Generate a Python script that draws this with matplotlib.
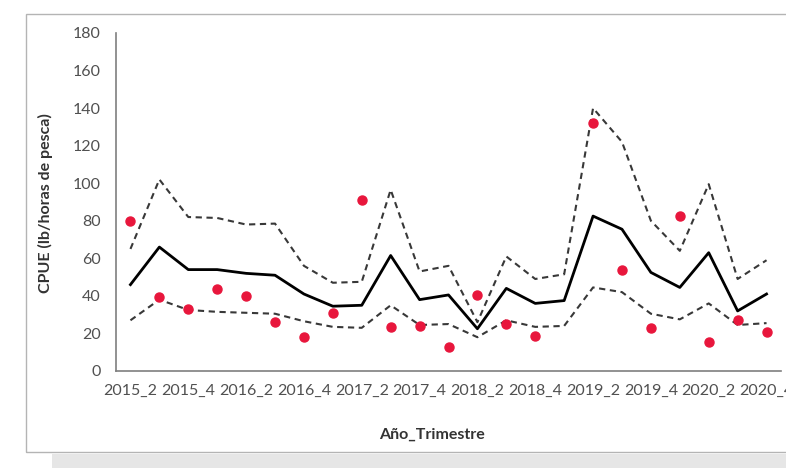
import matplotlib.pyplot as plt
import matplotlib.patches as patches
import numpy as np

quarters = ["2015_2", "2015_3", "2015_4",
            "2016_1", "2016_2", "2016_3", "2016_4",
            "2017_1", "2017_2", "2017_3", "2017_4",
            "2018_1", "2018_2", "2018_3", "2018_4",
            "2019_1", "2019_2", "2019_3", "2019_4",
            "2020_1", "2020_2", "2020_3", "2020_4"]

cpue_mean = [46, 66, 54, 54, 52, 51, 41, 34.5, 35, 61.5, 38, 40.5,
             22.5, 44, 36, 37.5, 82.5, 75.5, 52.5, 44.5, 63, 32, 41]
cpue_upper = [65, 102, 82, 81.5, 78, 78.5, 56, 47, 47.5, 96.5, 53, 56,
              26, 61, 49, 51.5, 140, 122, 80, 64, 99.5, 49, 59]
cpue_lower = [27, 38, 32.5, 31.5, 31, 30.5, 26.5, 23.5, 23, 35, 24.5, 25,
              18, 27, 23.5, 24, 44.5, 42, 30.5, 27.5, 36, 24.5, 25.5]
cpue_obs = [80, 39.5, 33, 43.5, 40, 26, 18, 31, 91, 23.5, 24, 13,
            40.5, 25, 18.5, np.nan, 132, 54, 23, 82.5, 15.5, 27, 21]

plt.rcParams['font.family'] = ['Lato', 'DejaVu Sans']

fig = plt.figure(figsize=(7.86, 4.68), dpi=100)

# frame around the chart and grey strip under it
fig.patches.append(patches.Rectangle((26 / 786, 16 / 468), 1.0, 438 / 468,
                                     transform=fig.transFigure, fill=False,
                                     ec="#b4b4b4", lw=1.0))
fig.patches.append(patches.Rectangle((52 / 786, 0), 1.0, 14 / 468,
                                     transform=fig.transFigure,
                                     fc="#e6e6e6", ec="none"))

ax = fig.add_axes([116 / 786, 1 - 371 / 468, 665 / 786, 338 / 468])
x = np.arange(len(quarters))

ax.plot(x, cpue_upper, color="#383838", lw=1.5, ls=(0, (3, 2.2)))
ax.plot(x, cpue_lower, color="#383838", lw=1.5, ls=(0, (3, 2.2)))
ax.plot(x, cpue_mean, color="black", lw=2.0)
ax.plot(x, cpue_obs, ls="none", marker="o", ms=6.5, color="#e8163c", zorder=5)

ax.set_xlim(-0.5, len(quarters) - 0.5)
ax.set_ylim(0, 180)
ax.set_yticks(range(0, 181, 20))
ax.set_xticks(x[::2])
ax.set_xticklabels(quarters[::2])
ax.tick_params(axis="both", length=0, labelsize=11.5, colors="#505050")
ax.tick_params(axis="y", pad=11)
ax.tick_params(axis="x", pad=9)

for side in ["top", "right"]:
    ax.spines[side].set_visible(False)
for side in ["left", "bottom"]:
    ax.spines[side].set_color("#7f7f7f")
    ax.spines[side].set_linewidth(1.2)

fig.text(45 / 786, 1 - 203 / 468, "CPUE (lb/horas de pesca)", rotation=90,
         ha="center", va="center", fontsize=11.5, fontweight="bold", color="#333333")
fig.text(432 / 786, 1 - 435 / 468, "Año_Trimestre", ha="center", va="center",
         fontsize=11.5, fontweight="bold", color="#333333")

fig.savefig("out.png", dpi=100)
